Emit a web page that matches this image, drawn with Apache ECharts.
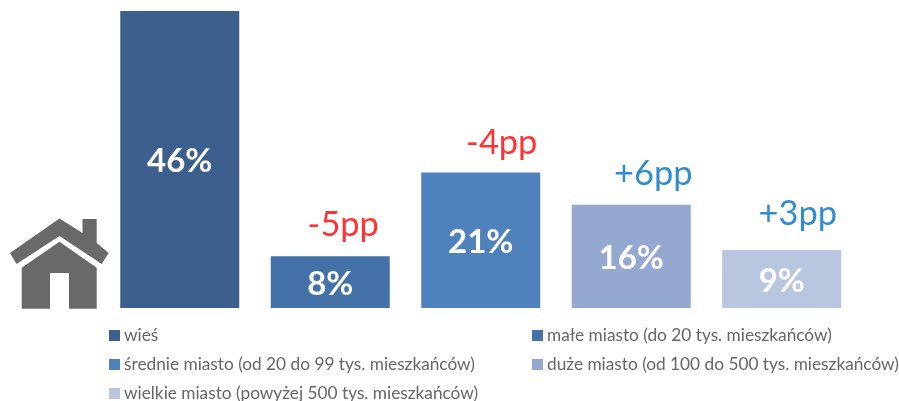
<!DOCTYPE html>
<html><head><meta charset="utf-8">
<style>html,body{margin:0;padding:0;background:#fff}#c{width:899px;height:401px}</style>
<script src="https://cdn.jsdelivr.net/npm/echarts@6/dist/echarts.min.js"></script>
</head><body><div id="c"></div>
<script>
const categories = ['wieś','małe miasto (do 20 tys. mieszkańców)','średnie miasto (od 20 do 99 tys. mieszkańców)','duże miasto (od 100 do 500 tys. mieszkańców)','wielkie miasto (powyżej 500 tys. mieszkańców)'];
const values = [46,8,21,16,9];
const deltas = ['', '-5pp','-4pp','+6pp','+3pp'];
const colors = ['#3C5F8E','#4472A8','#4F81BD','#95A9D0','#B9C6E0'];
const deltaColors = ['#FF0000','#FF0000','#FF0000','#0070C0','#0070C0'];
const deltaOffsets = [[0,0],[13,-31],[21,-30],[22,-31],[16,-36]];
const legendPos = [[109,327],[532,327],[109,356],[532,356],[109,385]];
const FONT = 'Lato';
const chart = echarts.init(document.getElementById('c'), null, {renderer:'canvas'});
const roof = [[59.5,218.5],[82.5,233],[82.5,219],[96.7,219],[96.7,243],[108.7,253],[101.7,264],[59.5,236],[16.5,264],[10,253]];
const body = [[59.5,241.7],[96.7,267.7],[96.7,308.7],[69,308.7],[69,273],[50,273],[50,308.7],[21.7,308.7],[21.7,267.7]];
chart.setOption({
  animation:false,
  grid:{left:104.5,right:42,top:11,bottom:93},
  xAxis:{type:'category',data:categories,show:false},
  yAxis:{type:'value',min:0,max:46,show:false},
  legend:categories.map((n,i)=>({
    data:[n],left:legendPos[i][0],top:legendPos[i][1],padding:0,itemWidth:11,itemHeight:11,itemGap:0,
    selectedMode:false,icon:'rect',
    textStyle:{fontFamily:FONT,fontSize:17.25,color:'#666666',padding:[0,0,0,-1]}
  })),
  series:categories.map((n,i)=>({
    name:n,type:'bar',stack:'s',barWidth:119,
    itemStyle:{color:colors[i]},
    data:values.map((v,j)=>j===i?v:null),
    label:{show:true,position:'inside',offset:[0,2],formatter:p=>p.value+'%',color:'#fff',fontFamily:FONT,fontWeight:'bold',fontSize:33}
  })).concat([{
    type:'scatter',symbolSize:0,silent:true,
    data:values.map((v,i)=>({value:v,label:{show:i>0,position:'inside',offset:deltaOffsets[i],formatter:deltas[i],color:deltaColors[i],fontFamily:FONT,fontSize:34.4}}))
  }]),
  graphic:[roof,body].map(points=>({type:'polygon',shape:{points},style:{fill:'#696969'},silent:true}))
});
</script></body></html>
